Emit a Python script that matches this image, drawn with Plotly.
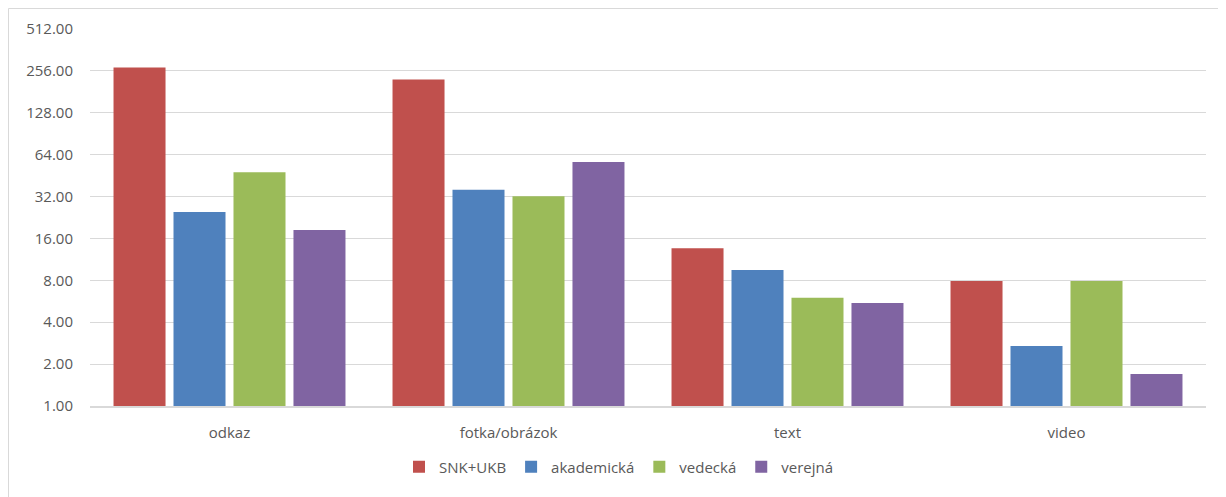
import plotly.graph_objects as go

categories = ["odkaz", "fotka/obrázok", "text", "video"]
series_names = ["SNK+UKB", "akademická", "vedecká", "verejná"]
snk_ukb = [271, 222, 13.6, 7.9]
akademicka = [24.8, 35.8, 9.5, 2.7]
vedecka = [47.8, 32.2, 6.0, 7.9]
verejna = [18.4, 56.6, 5.5, 1.7]
tick_values = [1, 2, 4, 8, 16, 32, 64, 128, 256, 512]
tick_labels = [f"{v:.2f}" for v in tick_values]

colors = ["#C0504D", "#4F81BD", "#9BBB59", "#8064A2"]
all_series = [snk_ukb, akademicka, vedecka, verejna]

fig = go.Figure()
for name, vals, col in zip(series_names, all_series, colors):
    fig.add_trace(go.Bar(x=categories, y=vals, name=name,
                         marker=dict(color=col, line=dict(width=0))))

# page body has an 8px default margin, so the figure is drawn 8px smaller
OFF = 8
W, H = 1226 - OFF, 497 - OFF
L, R, T, B = 90 - OFF, 20, 29 - OFF, 91
pw = W - L - R
ph = H - T - B

FONT = "Open Sans, Lato, sans-serif"
GRAY = "#595959"

fig.update_layout(
    width=W, height=H,
    margin=dict(l=L, r=R, t=T, b=B, autoexpand=False),
    paper_bgcolor="white", plot_bgcolor="white",
    barmode="group", bargap=0.14, bargroupgap=0.133,
    font=dict(family=FONT, size=15, color=GRAY),
    showlegend=True,
    legend=dict(orientation="h", x=(619 - OFF - L) / pw, xanchor="center",
                y=(T + ph - (467 - OFF)) / ph, yanchor="middle",
                font=dict(family=FONT, size=15, color=GRAY), itemwidth=30,
                traceorder="normal"),
    xaxis=dict(showgrid=False, showline=True, linecolor="#d9d9d9", linewidth=1.5,
               ticks="", ticklabelstandoff=12,
               tickfont=dict(family=FONT, size=15, color=GRAY),
               automargin=False),
    yaxis=dict(type="log", range=[0, 2.70927], tickvals=tick_values, ticktext=tick_labels,
               showgrid=True, gridcolor="#d9d9d9", gridwidth=1.2, zeroline=False,
               showline=False, ticks="", ticklabelstandoff=16, automargin=False,
               tickfont=dict(family=FONT, size=15, color=GRAY)),
    shapes=[dict(type="rect", xref="paper", yref="paper",
                 x0=(0.5 - L) / pw, x1=(1240 - OFF - L) / pw,
                 y0=(T + ph - 520) / ph, y1=(T + ph - 0.5) / ph,
                 line=dict(color="#d9d9d9", width=1), fillcolor="rgba(0,0,0,0)",
                 layer="below")],
)

fig.write_html("out.html")
